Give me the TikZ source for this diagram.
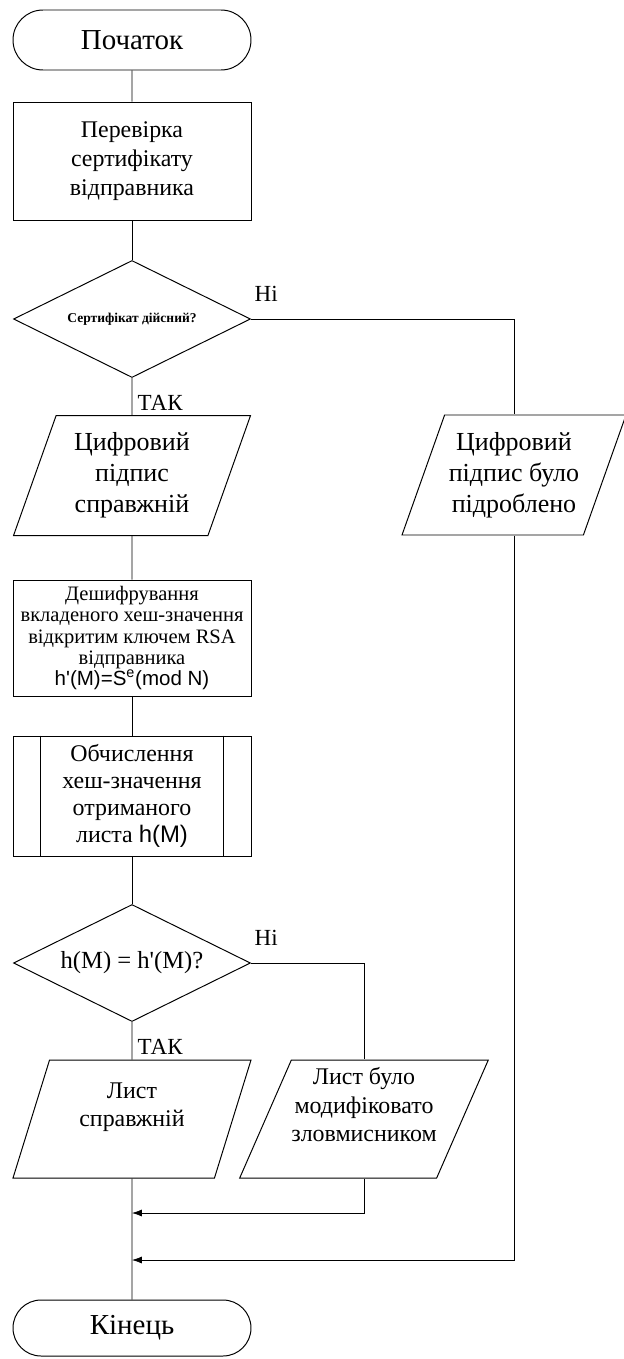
\documentclass[tikz,border=0pt]{standalone}
\usepackage{fontspec}
\setmainfont{Liberation Serif}
\setsansfont{Liberation Sans}
\usepackage{tikz}
\usetikzlibrary{positioning,arrows.meta,calc,shapes.geometric,shapes.misc}

\begin{document}
\begin{tikzpicture}[
    terminal/.style={draw, line width=0.7pt, rounded rectangle, minimum width=5.95cm,
      minimum height=1.5cm, inner sep=0pt, font=\fontsize{20.6}{24}\selectfont},
    procbox/.style={draw, line width=0.7pt, rectangle, minimum width=5.95cm,
      inner sep=0pt, align=center},
    decision/.style={draw, line width=0.7pt, diamond, aspect=2.03, minimum width=5.925cm,
      minimum height=2.925cm, inner sep=0pt, align=center},
    iobox/.style={draw, line width=0.7pt, trapezium, trapezium left angle=63.5,
      trapezium right angle=116.5, trapezium stretches body, minimum height=3cm,
      inner sep=0pt, align=center},
    link/.style={line width=0.5pt},
    arrowlink/.style={link, -{Latex[length=7pt,width=5pt]}},
    answer/.style={anchor=south west, inner sep=1pt, font=\fontsize{16.4}{18}\selectfont}
  ]
  \useasboundingbox (0,0) rectangle (15.6,-33.975);

  % Start and certificate check
  \node[terminal] (start) at (3.3,-1.0) {Початок};
  \node[procbox, minimum height=2.95cm, font=\fontsize{17}{20.6}\selectfont]
    (check) at (3.3,-4.025) {Перевірка\\сертифікату\\відправника};
  \node[decision, font=\bfseries\fontsize{9.6}{11}\selectfont]
    (valid) at (3.3,-7.975) {Сертифікат дійсний?};

  % Signature outcome
  \node[iobox, minimum width=5.925cm, font=\fontsize{18.5}{22}\selectfont]
    (sigok) at (3.3,-11.89) {Цифровий\\підпис\\справжній};
  \node[iobox, minimum width=5.6cm, font=\fontsize{18.5}{22}\selectfont]
    (sigbad) at (12.85,-11.875) {Цифровий\\підпис було\\підроблено};

  % Decryption and hashing
  \node[procbox, minimum height=2.9cm, font=\fontsize{14.6}{15}\selectfont]
    (decrypt) at (3.3,-15.95) {Дешифрування\\вкладеного хеш-значення\\відкритим ключем RSA\\відправника\\
      {\sffamily h\textquotesingle(M)=S\textsuperscript{e}(mod N)}};
  \node[procbox, minimum height=3cm, font=\fontsize{17}{19.2}\selectfont]
    (hash) at (3.3,-19.9) {Обчислення\\хеш-значення\\отриманого\\листа {\sffamily h(M)}};
  \draw[line width=0.7pt] ([xshift=0.7cm]hash.north west) -- ([xshift=0.7cm]hash.south west);
  \draw[line width=0.7pt] ([xshift=-0.7cm]hash.north east) -- ([xshift=-0.7cm]hash.south east);

  % Hash comparison
  \node[decision, font=\fontsize{17.5}{20}\selectfont]
    (equal) at (3.3,-24.075) {h(M) = h\textquotesingle(M)?};
  \node[iobox, minimum width=5.95cm, minimum height=2.95cm, font=\fontsize{17}{20.5}\selectfont]
    (msgok) at (3.3,-27.975) {Лист\\справжній\\\mbox{}};
  \node[iobox, minimum width=5.9cm, minimum height=2.95cm, font=\fontsize{17}{20.5}\selectfont]
    (msgbad) at (9.1,-27.975) {Лист було\\модифіковато\\зловмисником\\\mbox{}};

  % End
  \node[terminal, minimum height=1.4cm] (stop) at (3.3,-33.2) {Кінець};
  \coordinate (join1) at (3.3,-30.325);
  \coordinate (join2) at (3.3,-31.5);

  % Connectors
  \draw[link] (start) -- (check);
  \draw[link] (check) -- (valid);
  \draw[link] (valid) -- (sigok);
  \node[answer] (yes1) at ([xshift=0.1cm,yshift=-0.85cm]valid.south) {ТАК};
  \draw[link] (valid.east) -| (sigbad.north);
  \node[answer] (no1) at ([xshift=0.05cm,yshift=0.4cm]valid.east) {Ні};
  \draw[link] (sigok) -- (decrypt);
  \draw[link] (decrypt) -- (hash);
  \draw[link] (hash) -- (equal);
  \draw[link] (equal) -- (msgok);
  \node[answer] (yes2) at ([xshift=0.1cm,yshift=-0.85cm]equal.south) {ТАК};
  \draw[link] (equal.east) -| (msgbad.north);
  \node[answer] (no2) at ([xshift=0.05cm,yshift=0.4cm]equal.east) {Ні};
  \draw[link] (msgok) -- (stop);
  \draw[arrowlink] (msgbad.south) |- (join1);
  \draw[arrowlink] (sigbad.south) |- (join2);
\end{tikzpicture}
\end{document}
